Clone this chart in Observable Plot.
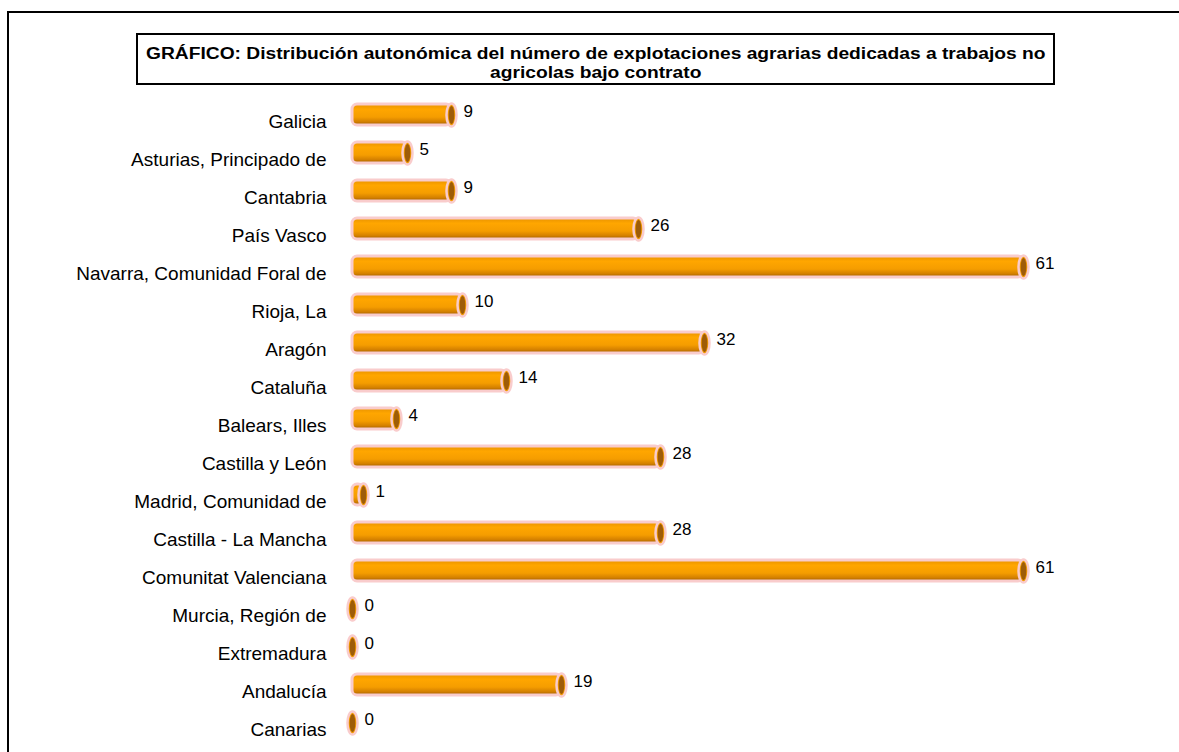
<!DOCTYPE html>
<html>
<head>
<meta charset="utf-8">
<script src="https://cdn.jsdelivr.net/npm/d3@7"></script>
<script src="https://cdn.jsdelivr.net/npm/@observablehq/plot@0.6"></script>
<style>
  html, body { margin: 0; padding: 0; background: #fff; }
  #wrap { position: relative; width: 1179px; height: 752px; overflow: hidden; font-family: "Liberation Sans", Arial, sans-serif; }
  #frame { position: absolute; left: 7px; top: 11px; width: 1300px; height: 900px; border: 2px solid #000; box-sizing: border-box; }
  #head { position: relative; height: 84px; }
  #titlebox { position: absolute; left: 136px; top: 33px; width: 919px; height: 52px; border: 2px solid #000; box-sizing: border-box; background: #fff;
    text-align: center; padding-top: 10px; color: #000; }
  #titlebox span { display: inline-block; font-weight: bold; font-size: 16px; line-height: 18.5px; white-space: nowrap; transform: scaleX(1.2); transform-origin: 50% 50%; }
  #chart { position: relative; }
</style>
</head>
<body>
<div id="wrap">
  <div id="frame"></div>
  <div id="head"><div id="titlebox"><span>GRÁFICO: Distribución autonómica del número de explotaciones agrarias dedicadas a trabajos no<br>agricolas bajo contrato</span></div></div>
  <div id="chart"></div>
</div>
<script>
const regions = [
  "Galicia", "Asturias, Principado de", "Cantabria", "País Vasco",
  "Navarra, Comunidad Foral de", "Rioja, La", "Aragón", "Cataluña",
  "Balears, Illes", "Castilla y León", "Madrid, Comunidad de",
  "Castilla - La Mancha", "Comunitat Valenciana", "Murcia, Región de",
  "Extremadura", "Andalucía", "Canarias"
];
const values = [9, 5, 9, 26, 61, 10, 32, 14, 4, 28, 1, 28, 61, 0, 0, 19, 0];
const xDomain = [0, 61];

const data = regions.map((r, i) => ({region: r, value: values[i]}));

function ellipseSymbol(rx, ry) {
  const k = 0.5523;
  return {
    draw(ctx) {
      ctx.moveTo(rx, 0);
      ctx.bezierCurveTo(rx, ry * k, rx * k, ry, 0, ry);
      ctx.bezierCurveTo(-rx * k, ry, -rx, ry * k, -rx, 0);
      ctx.bezierCurveTo(-rx, -ry * k, -rx * k, -ry, 0, -ry);
      ctx.bezierCurveTo(rx * k, -ry, rx, -ry * k, rx, 0);
      ctx.closePath();
    }
  };
}

function defsMark() {
  const ns = "http://www.w3.org/2000/svg";
  const defs = document.createElementNS(ns, "defs");
  const g = document.createElementNS(ns, "linearGradient");
  g.setAttribute("id", "cyl");
  g.setAttribute("x1", "0"); g.setAttribute("y1", "0");
  g.setAttribute("x2", "0"); g.setAttribute("y2", "1");
  [["0%", "#e89200"], ["25%", "#ffa600"], ["62%", "#f59d00"], ["84%", "#d48000"], ["100%", "#9e5d00"]].forEach(([o, c]) => {
    const s = document.createElementNS(ns, "stop");
    s.setAttribute("offset", o); s.setAttribute("stop-color", c);
    g.appendChild(s);
  });
  defs.appendChild(g);
  return defs;
}

const chart = Plot.plot({
  width: 1179,
  height: 668,
  marginTop: 0,
  marginBottom: 0,
  marginLeft: 352,
  marginRight: 156,
  x: {domain: xDomain, axis: null},
  y: {domain: regions, padding: 0.45, axis: null},
  style: {fontFamily: "'Liberation Sans', Arial, sans-serif", fontSize: "17px", color: "#000", background: "transparent", overflow: "visible"},
  marks: [
    defsMark,
    Plot.barX(data, {x: "value", y: "region", fill: "url(#cyl)", stroke: "#f9cccc", strokeWidth: 3, rx: 5}),
    Plot.dot(data, {x: "value", y: "region", symbol: ellipseSymbol(5, 11.5), r: 5, fill: "#f29a00", stroke: "#f9cccc", strokeWidth: 2.5}),
    Plot.dot(data, {x: "value", y: "region", symbol: ellipseSymbol(2.8, 9), r: 3, fill: "#9e5c08", stroke: "none"}),
    Plot.text(data, {x: "value", y: "region", text: d => String(d.value), textAnchor: "start", dx: 12, dy: -3, fontSize: 17, fill: "#000"}),
    Plot.axisY({tickSize: 0, tickPadding: 26, dy: 7, fontSize: 19, label: null})
  ]
});
document.getElementById("chart").appendChild(chart);
</script>
</body>
</html>
